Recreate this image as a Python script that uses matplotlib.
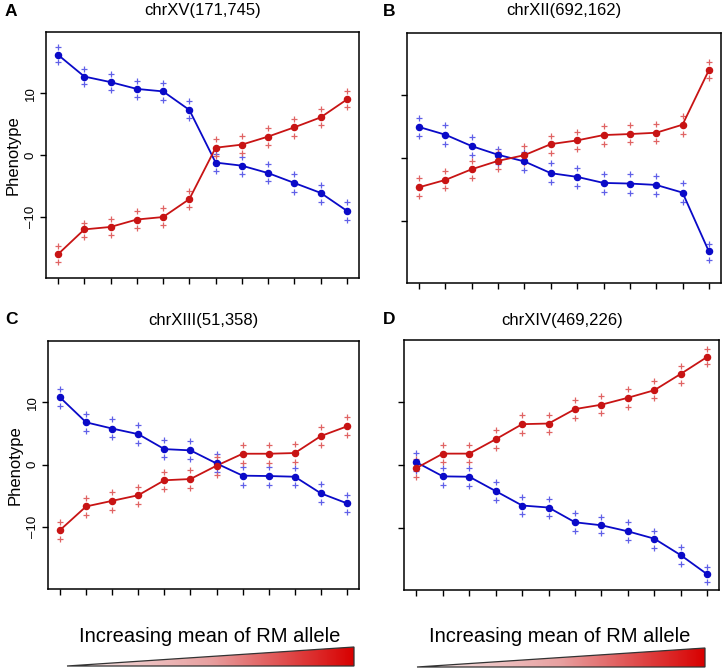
import numpy as np
import matplotlib
matplotlib.use("Agg")
import matplotlib.pyplot as plt
from matplotlib.patches import Polygon
from matplotlib.colors import LinearSegmentedColormap

plt.rcParams['font.family'] = ['Liberation Sans', 'DejaVu Sans']

x = np.arange(1, 13)

titles = ["chrXV(171,745)", "chrXII(692,162)", "chrXIII(51,358)", "chrXIV(469,226)"]
letters = ["A", "B", "C", "D"]

# Panel A
A_blue = [16.2, 12.7, 11.8, 10.7, 10.3, 7.3, -1.2, -1.7, -2.9, -4.5, -6.1, -9.0]
A_blue_hi = [17.4, 13.9, 13.1, 12.0, 11.6, 8.8, 0.2, -0.3, -1.4, -3.0, -4.8, -7.6]
A_blue_lo = [15.0, 11.5, 10.5, 9.4, 8.9, 6.0, -2.6, -3.1, -4.2, -6.0, -7.6, -10.4]
A_red = [-16.0, -12.0, -11.6, -10.4, -10.0, -7.1, 1.2, 1.7, 3.0, 4.5, 6.1, 9.0]
A_red_hi = [-14.7, -10.9, -10.3, -9.1, -8.6, -5.8, 2.6, 3.1, 4.4, 5.9, 7.5, 10.4]
A_red_lo = [-17.2, -13.3, -12.9, -11.8, -11.3, -8.4, -0.1, 0.3, 1.6, 3.1, 4.8, 7.7]

# Panel B
B_blue = [4.95, 3.72, 1.91, 0.53, -0.53, -2.39, -2.98, -3.94, -4.04, -4.26, -5.48, -14.84]
B_blue_hi = [6.4, 5.2, 3.4, 1.4, 0.96, -0.85, -1.5, -2.5, -2.55, -2.8, -4.0, -13.6]
B_blue_lo = [3.6, 2.3, 0.5, -0.9, -1.9, -3.8, -4.4, -5.4, -5.5, -5.7, -6.9, -16.2]
B_red = [-4.63, -3.46, -1.76, -0.43, 0.48, 2.23, 2.82, 3.67, 3.83, 4.04, 5.32, 13.99]
B_red_hi = [-3.2, -2.0, -0.4, 0.96, 1.9, 3.6, 4.2, 5.1, 5.2, 5.4, 6.7, 15.3]
B_red_lo = [-6.0, -4.8, -3.1, -1.76, -0.85, 0.85, 1.4, 2.3, 2.5, 2.7, 3.9, 12.8]

# Panel C
C_blue = [10.8, 6.8, 5.8, 4.9, 2.5, 2.3, 0.2, -1.76, -1.82, -1.93, -4.6, -6.2]
C_blue_hi = [12.1, 8.2, 7.3, 6.4, 4.0, 3.8, 1.7, -0.3, -0.4, -0.5, -3.1, -4.8]
C_blue_lo = [9.4, 5.4, 4.5, 3.5, 1.2, 0.9, -1.2, -3.2, -3.2, -3.3, -6.0, -7.6]
C_red = [-10.5, -6.7, -5.8, -4.9, -2.5, -2.3, -0.16, 1.76, 1.76, 1.87, 4.6, 6.15]
C_red_hi = [-9.2, -5.4, -4.4, -3.5, -1.1, -0.86, 1.3, 3.2, 3.2, 3.3, 6.0, 7.6]
C_red_lo = [-11.9, -8.1, -7.2, -6.3, -3.9, -3.7, -1.6, 0.3, 0.3, 0.4, 3.2, 4.8]

# Panel D
D_blue = [0.43, -1.81, -1.87, -4.16, -6.45, -6.77, -9.12, -9.6, -10.56, -11.73, -14.35, -17.39]
D_blue_hi = [1.87, -0.4, -0.5, -2.7, -5.1, -5.4, -7.7, -8.2, -9.1, -10.45, -13.1, -16.2]
D_blue_lo = [-1.0, -3.2, -3.3, -5.5, -7.84, -8.1, -10.45, -10.9, -11.9, -13.2, -15.7, -18.6]
D_red = [-0.48, 1.81, 1.81, 4.1, 6.5, 6.6, 8.9, 9.6, 10.7, 11.9, 14.5, 17.2]
D_red_hi = [0.9, 3.2, 3.2, 5.5, 7.9, 8.0, 10.3, 11.0, 12.1, 13.3, 15.7, 18.5]
D_red_lo = [-1.9, 0.4, 0.4, 2.7, 5.1, 5.2, 7.5, 8.3, 9.3, 10.6, 13.1, 16.0]

panels = [
    (A_blue, A_blue_hi, A_blue_lo, A_red, A_red_hi, A_red_lo),
    (B_blue, B_blue_hi, B_blue_lo, B_red, B_red_hi, B_red_lo),
    (C_blue, C_blue_hi, C_blue_lo, C_red, C_red_hi, C_red_lo),
    (D_blue, D_blue_hi, D_blue_lo, D_red, D_red_hi, D_red_lo),
]

W, H = 724, 669
fig = plt.figure(figsize=(W / 100, H / 100), dpi=100)

# axes boxes in pixel coordinates (left, top, right, bottom)
boxes = [(46, 32.3, 359, 278.3), (407, 33.3, 721, 283.3),
         (48, 341, 359, 588.7), (404.3, 340.3, 719.3, 590)]
show_ylab = [True, False, True, False]

BLUE = "#0A0AC8"
BLUE_L = "#6060E8"
RED = "#C81414"
RED_L = "#E06464"

for i, (bx, (bm, bh, bl, rm, rh, rl)) in enumerate(zip(boxes, panels)):
    l, t, r, b = bx
    ax = fig.add_axes([l / W, 1 - b / H, (r - l) / W, (b - t) / H])
    ax.plot(x, bm, color=BLUE, lw=1.3, zorder=3)
    ax.plot(x, bm, 'o', color=BLUE, ms=4.4, zorder=4)
    ax.plot(x, bh, '+', color=BLUE_L, ms=5, mew=0.9, zorder=2)
    ax.plot(x, bl, '+', color=BLUE_L, ms=5, mew=0.9, zorder=2)
    ax.plot(x, rm, color=RED, lw=1.3, zorder=3)
    ax.plot(x, rm, 'o', color=RED, ms=4.4, zorder=4)
    ax.plot(x, rh, '+', color=RED_L, ms=5, mew=0.9, zorder=2)
    ax.plot(x, rl, '+', color=RED_L, ms=5, mew=0.9, zorder=2)
    ax.set_xlim(0.54, 12.46)
    ax.set_ylim(-19.9, 19.85)
    ax.set_xticks(x)
    ax.set_xticklabels([])
    ax.set_yticks([-10, 0, 10])
    for s in ax.spines.values():
        s.set_linewidth(1.1)
    ax.tick_params(direction='out', length=4.5, width=1.0, pad=2)
    if show_ylab[i]:
        ax.set_yticklabels(["\u201310", "0", "10"], rotation=90, va='center', fontsize=9.5)
        ax.set_ylabel("Phenotype", fontsize=12, labelpad=3)
    else:
        ax.set_yticklabels([])
    cx = (l + r) / 2
    ty = 11 if i < 2 else 320
    fig.text(cx / W, 1 - ty / H, titles[i], ha='center', va='center', fontsize=12)
    lx = 11 if i % 2 == 0 else 389
    fig.text(lx / W, 1 - ty / H, letters[i], ha='center', va='center', fontsize=12.5, fontweight='bold')

# bottom annotation: text + gradient wedge
ov = fig.add_axes([0, 0, 1, 1], zorder=10)
ov.set_xlim(0, W)
ov.set_ylim(H, 0)
ov.axis('off')
ov.patch.set_alpha(0)
cmap = LinearSegmentedColormap.from_list('wedge', ['#f4eaea', '#e8a0a0', '#d80000'])
grad = np.linspace(0, 1, 256).reshape(1, -1)
for (x0, x1, ytop, ybot, tc) in [(67, 354, 647, 666, 209.5), (417, 705, 648, 667, 559.5)]:
    poly = Polygon([(x0, ybot), (x1, ytop), (x1, ybot)], closed=True,
                   facecolor='none', edgecolor='#333333', lw=0.9, zorder=3)
    ov.add_patch(poly)
    im = ov.imshow(grad, cmap=cmap, extent=[x0, x1, ybot, ytop], aspect='auto', zorder=2)
    im.set_clip_path(poly)
    ov.text(tc, 636, "Increasing mean of RM allele", ha='center', va='center', fontsize=14.5)
ov.set_xlim(0, W)
ov.set_ylim(H, 0)

fig.savefig("out.png", dpi=100)
